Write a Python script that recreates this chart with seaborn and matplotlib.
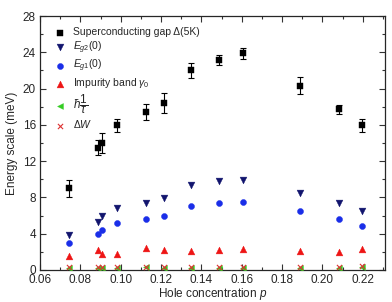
import numpy as np
import pandas as pd
import matplotlib
matplotlib.use("Agg")
import matplotlib.pyplot as plt
import seaborn as sns
from matplotlib.ticker import MultipleLocator

p = [0.0744, 0.0889, 0.0906, 0.0983, 0.1125, 0.1216, 0.1347, 0.1488, 0.1607, 0.189, 0.2083, 0.2198]
gap = [9.0, 13.5, 14.0, 15.95, 17.45, 18.4, 22.0, 23.15, 23.9, 20.3, 17.7, 15.95]
gap_err = [0.9, 0.8, 1.1, 0.75, 0.9, 1.1, 0.8, 0.55, 0.6, 0.95, 0.5, 0.75]
eg2 = [3.9, 5.3, 5.9, 6.8, 7.35, 7.95, 9.35, 9.8, 9.9, 8.5, 7.4, 6.5]
eg1 = [2.95, 3.95, 4.4, 5.15, 5.6, 6.0, 7.05, 7.4, 7.5, 6.45, 5.6, 4.9]
gamma0 = [1.5, 2.2, 1.75, 1.75, 2.45, 2.2, 2.05, 2.2, 2.3, 2.05, 2.0, 2.35]
hbar_tau = [0.25, 0.25, 0.25, 0.25, 0.3, 0.25, 0.25, 0.25, 0.25, 0.25, 0.25, 0.35]
dW = [0.3, 0.3, 0.3, 0.3, 0.35, 0.3, 0.3, 0.3, 0.3, 0.3, 0.3, 0.4]

df = pd.DataFrame(dict(p=p, gap=gap, gap_err=gap_err, eg2=eg2, eg1=eg1,
                       gamma0=gamma0, hbar_tau=hbar_tau, dW=dW))

sns.set_style("ticks")
plt.rcParams['font.family'] = ['Liberation Sans', 'DejaVu Sans']
plt.rcParams['mathtext.fontset'] = 'custom'
plt.rcParams['mathtext.rm'] = 'Liberation Sans'
plt.rcParams['mathtext.it'] = 'Liberation Sans:italic'

fig = plt.figure(figsize=(3.92, 3.02), dpi=100)
ax = fig.add_axes([0.102, 0.106, 0.880, 0.841])

ax.errorbar(df.p, df.gap, yerr=df.gap_err, fmt='none', ecolor='black',
            elinewidth=0.8, capsize=2.5, capthick=0.8, zorder=2)
sns.scatterplot(data=df, x='p', y='gap', marker='s', s=17, color='black',
                edgecolor='black', linewidth=0.3, ax=ax, zorder=3,
                label='Superconducting gap \u0394(5K)')
sns.scatterplot(data=df, x='p', y='eg2', marker='v', s=24, color='#12156e',
                edgecolor='#12156e', linewidth=0.3, ax=ax, zorder=3,
                label=r'$E_{g2}$(0)')
sns.scatterplot(data=df, x='p', y='eg1', marker='o', s=19, color='#1a2ee8',
                edgecolor='#1a2ee8', linewidth=0.3, ax=ax, zorder=3,
                label=r'$E_{g1}$(0)')
sns.scatterplot(data=df, x='p', y='gamma0', marker='^', s=24, color='#ee1515',
                edgecolor='#ee1515', linewidth=0.3, ax=ax, zorder=3,
                label=r'Impurity band $\gamma_0$')
sns.scatterplot(data=df, x='p', y='hbar_tau', marker='<', s=18, color='#33cc22',
                edgecolor='#33cc22', linewidth=0.3, ax=ax, zorder=3,
                label=r'$\hbar\dfrac{1}{\tau}$')
sns.scatterplot(data=df, x='p', y='dW', marker='x', s=14, color='#dd3333',
                linewidth=0.8, ax=ax, zorder=4,
                label=r'$\Delta W$')

ax.set_xlim(0.06, 0.231)
ax.set_ylim(0, 28)
ax.xaxis.set_major_locator(MultipleLocator(0.02))
ax.xaxis.set_minor_locator(MultipleLocator(0.01))
ax.yaxis.set_major_locator(MultipleLocator(4))
ax.yaxis.set_minor_locator(MultipleLocator(2))
ax.xaxis.set_major_formatter(matplotlib.ticker.FormatStrFormatter('%.2f'))
ax.tick_params(which='both', direction='in', top=True, right=True, labelsize=8.5,
               width=0.8, color='#333333', pad=3)
ax.tick_params(which='major', length=4)
ax.tick_params(which='minor', length=2)
for s in ax.spines.values():
    s.set_linewidth(0.9)
    s.set_visible(True)

ax.set_xlabel('Hole concentration $p$', fontsize=8.5, labelpad=0)
ax.set_ylabel('Energy scale (meV)', fontsize=8.5, labelpad=3)

leg = ax.legend(loc='upper left', frameon=False, fontsize=7.5,
                bbox_to_anchor=(0.023, 0.98), handletextpad=0.6,
                handlelength=1.2, labelspacing=0.2, borderaxespad=0.2)
leg.get_texts()[4].set_fontsize(8.5)

fig.savefig('out.png', dpi=100)
